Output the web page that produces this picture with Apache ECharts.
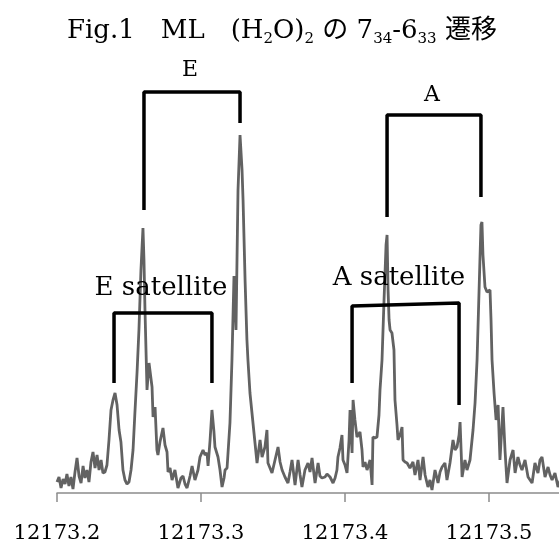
<!DOCTYPE html>
<html>
<head>
<meta charset="utf-8">
<script src="https://cdn.jsdelivr.net/npm/echarts@6/dist/echarts.min.js"></script>
<style>html,body{margin:0;padding:0;background:#fff}#c{width:559px;height:544px}</style>
</head>
<body>
<div id="c"></div>
<script>
// wavenumber (cm-1) of each sampled point
const wavenumber = [
12173.2000,12173.2014,12173.2028,12173.2042,12173.2056,12173.2069,12173.2083,12173.2097,12173.2111,12173.2125,
12173.2139,12173.2153,12173.2167,12173.2181,12173.2194,12173.2208,12173.2222,12173.2236,12173.2250,12173.2264,
12173.2278,12173.2292,12173.2306,12173.2319,12173.2333,12173.2347,12173.2361,12173.2375,12173.2389,12173.2403,
12173.2417,12173.2431,12173.2444,12173.2458,12173.2472,12173.2486,12173.2500,12173.2514,12173.2528,12173.2542,
12173.2556,12173.2569,12173.2583,12173.2597,12173.2604,12173.2611,12173.2625,12173.2639,12173.2646,12173.2660,
12173.2667,12173.2681,12173.2694,12173.2701,12173.2715,12173.2736,12173.2750,12173.2764,12173.2771,12173.2785,
12173.2799,12173.2819,12173.2840,12173.2861,12173.2875,12173.2889,12173.2903,12173.2924,12173.2938,12173.2958,
12173.2979,12173.2993,12173.3014,12173.3028,12173.3042,12173.3049,12173.3063,12173.3076,12173.3090,12173.3097,
12173.3118,12173.3132,12173.3146,12173.3160,12173.3167,12173.3181,12173.3188,12173.3201,12173.3215,12173.3229,
12173.3236,12173.3243,12173.3250,12173.3257,12173.3271,12173.3285,12173.3292,12173.3306,12173.3319,12173.3326,
12173.3340,12173.3354,12173.3375,12173.3389,12173.3410,12173.3424,12173.3444,12173.3458,12173.3465,12173.3479,
12173.3493,12173.3514,12173.3535,12173.3549,12173.3563,12173.3583,12173.3604,12173.3618,12173.3632,12173.3653,
12173.3674,12173.3688,12173.3701,12173.3722,12173.3743,12173.3757,12173.3771,12173.3792,12173.3813,12173.3826,
12173.3840,12173.3861,12173.3875,12173.3896,12173.3917,12173.3931,12173.3944,12173.3951,12173.3965,12173.3979,
12173.3986,12173.4000,12173.4014,12173.4028,12173.4035,12173.4049,12173.4056,12173.4069,12173.4083,12173.4104,
12173.4118,12173.4125,12173.4139,12173.4153,12173.4174,12173.4188,12173.4194,12173.4208,12173.4222,12173.4236,
12173.4243,12173.4257,12173.4271,12173.4285,12173.4292,12173.4299,12173.4306,12173.4313,12173.4326,12173.4340,
12173.4347,12173.4361,12173.4368,12173.4382,12173.4396,12173.4403,12173.4417,12173.4431,12173.4451,12173.4472,
12173.4486,12173.4507,12173.4521,12173.4542,12173.4556,12173.4576,12173.4590,12173.4604,12173.4625,12173.4646,
12173.4660,12173.4674,12173.4694,12173.4708,12173.4729,12173.4750,12173.4764,12173.4778,12173.4792,12173.4799,
12173.4813,12173.4833,12173.4847,12173.4868,12173.4889,12173.4903,12173.4917,12173.4931,12173.4944,12173.4951,
12173.4958,12173.4972,12173.4986,12173.5007,12173.5014,12173.5021,12173.5035,12173.5049,12173.5063,12173.5076,
12173.5097,12173.5111,12173.5125,12173.5146,12173.5167,12173.5181,12173.5201,12173.5215,12173.5229,12173.5250,
12173.5271,12173.5285,12173.5299,12173.5319,12173.5340,12173.5354,12173.5368,12173.5389,12173.5410,12173.5424,
12173.5438,12173.5458,12173.5479,12173.5500
];
// signal intensity (arbitrary units)
const intensity = [
11,16,5,14,9,19,7,16,4,21,
35,17,10,27,15,23,11,31,41,25,
38,23,33,20,21,28,53,83,93,100,
88,63,51,23,13,9,11,23,43,83,
121,163,223,265,233,183,103,130,128,106,
76,86,43,38,51,65,48,41,21,25,
13,23,5,15,17,9,5,17,27,13,
23,36,43,38,40,27,53,83,61,46,
36,23,6,15,23,25,26,70,133,217,
193,163,233,303,358,323,293,213,153,133,
100,80,50,30,53,36,46,63,30,25,
20,33,46,31,23,16,10,21,33,8,
33,18,6,23,30,21,35,10,30,17,
15,16,19,16,10,15,23,36,45,58,
33,28,20,53,83,40,93,73,56,61,
43,26,31,23,33,8,56,55,56,78,
103,133,193,248,258,203,173,163,160,143,
93,68,53,58,66,33,31,30,25,31,
18,33,13,36,18,6,13,3,23,10,
21,26,30,13,30,53,43,46,58,71,
16,33,23,33,63,90,133,203,268,271,
238,206,201,203,173,133,100,73,88,33,
86,43,10,33,43,20,36,28,23,33,
16,13,10,30,20,33,36,16,26,18,
13,20,6,15
];
const tickValues = [12173.2, 12173.3, 12173.4, 12173.5];

// bracket annotations: [wavenumber, intensity] corners
const bracketE  = [[12173.2604,283],[12173.2604,401],[12173.3271,401],[12173.3271,370]];
const bracketA  = [[12173.4292,276],[12173.4292,378],[12173.4944,378],[12173.4944,296]];
const bracketES = [[12173.2396,110],[12173.2396,180],[12173.3076,180],[12173.3076,110]];
const bracketAS = [[12173.4049,110],[12173.4049,187],[12173.4792,190],[12173.4792,88]];
const labelNames = ['E', 'A', 'E satellite', 'A satellite'];
const labelPos = [[12173.2924,423],[12173.4604,398],[12173.2722,205],[12173.4375,215]];
const labelSizes = [22, 22, 26, 26];

const serif = '"DejaVu Serif", "Noto Sans CJK JP", serif';
const spectrum = wavenumber.map((w, i) => [w, intensity[i]]);

function bracketSeries(pts) {
  return {
    type: 'line', data: pts, symbol: 'none', clip: false, silent: true,
    lineStyle: { color: '#000', width: 3.5 }, z: 5, animation: false
  };
}

const chart = echarts.init(document.getElementById('c'), null, { renderer: 'canvas' });
chart.setOption({
  animation: false,
  backgroundColor: '#fff',
  title: {
    text: 'Fig.1　ML　(H{s|2}O){s|2} の 7{s|34}-6{s|33} 遷移',
    left: 62, top: 13,
    textStyle: {
      fontFamily: serif, fontSize: 26, fontWeight: 'normal', color: '#000',
      rich: { s: { fontFamily: serif, fontSize: 15, color: '#000', verticalAlign: 'bottom', padding: [0, 0, -3, 0] } }
    }
  },
  grid: { left: 57, right: 0, top: 13, bottom: 51, containLabel: false },
  xAxis: {
    type: 'value', min: 12173.2, max: 12173.5486,
    axisLine: { show: true, lineStyle: { color: '#8c8c8c', width: 1.5 } },
    axisTick: { show: true, length: 9, customValues: tickValues, lineStyle: { color: '#8c8c8c', width: 1.5 } },
    axisLabel: {
      customValues: tickValues, margin: 30, color: '#000',
      fontFamily: serif, fontSize: 21,
      formatter: v => v.toFixed(1)
    },
    splitLine: { show: false }
  },
  yAxis: { type: 'value', min: 0, max: 480, show: false, splitLine: { show: false } },
  series: [
    {
      type: 'line', data: spectrum, symbol: 'none', clip: true,
      lineStyle: { color: '#626262', width: 2.8 }, z: 3
    },
    bracketSeries(bracketE), bracketSeries(bracketA), bracketSeries(bracketES), bracketSeries(bracketAS),
    {
      type: 'scatter', symbolSize: 0, z: 6, silent: true,
      itemStyle: { opacity: 1 },
      data: labelNames.map((n, i) => ({
        name: n, value: labelPos[i],
        label: { show: true, position: 'inside', formatter: n, color: '#000', opacity: 1, fontFamily: serif, fontSize: labelSizes[i] }
      }))
    }
  ]
});
</script>
</body>
</html>
